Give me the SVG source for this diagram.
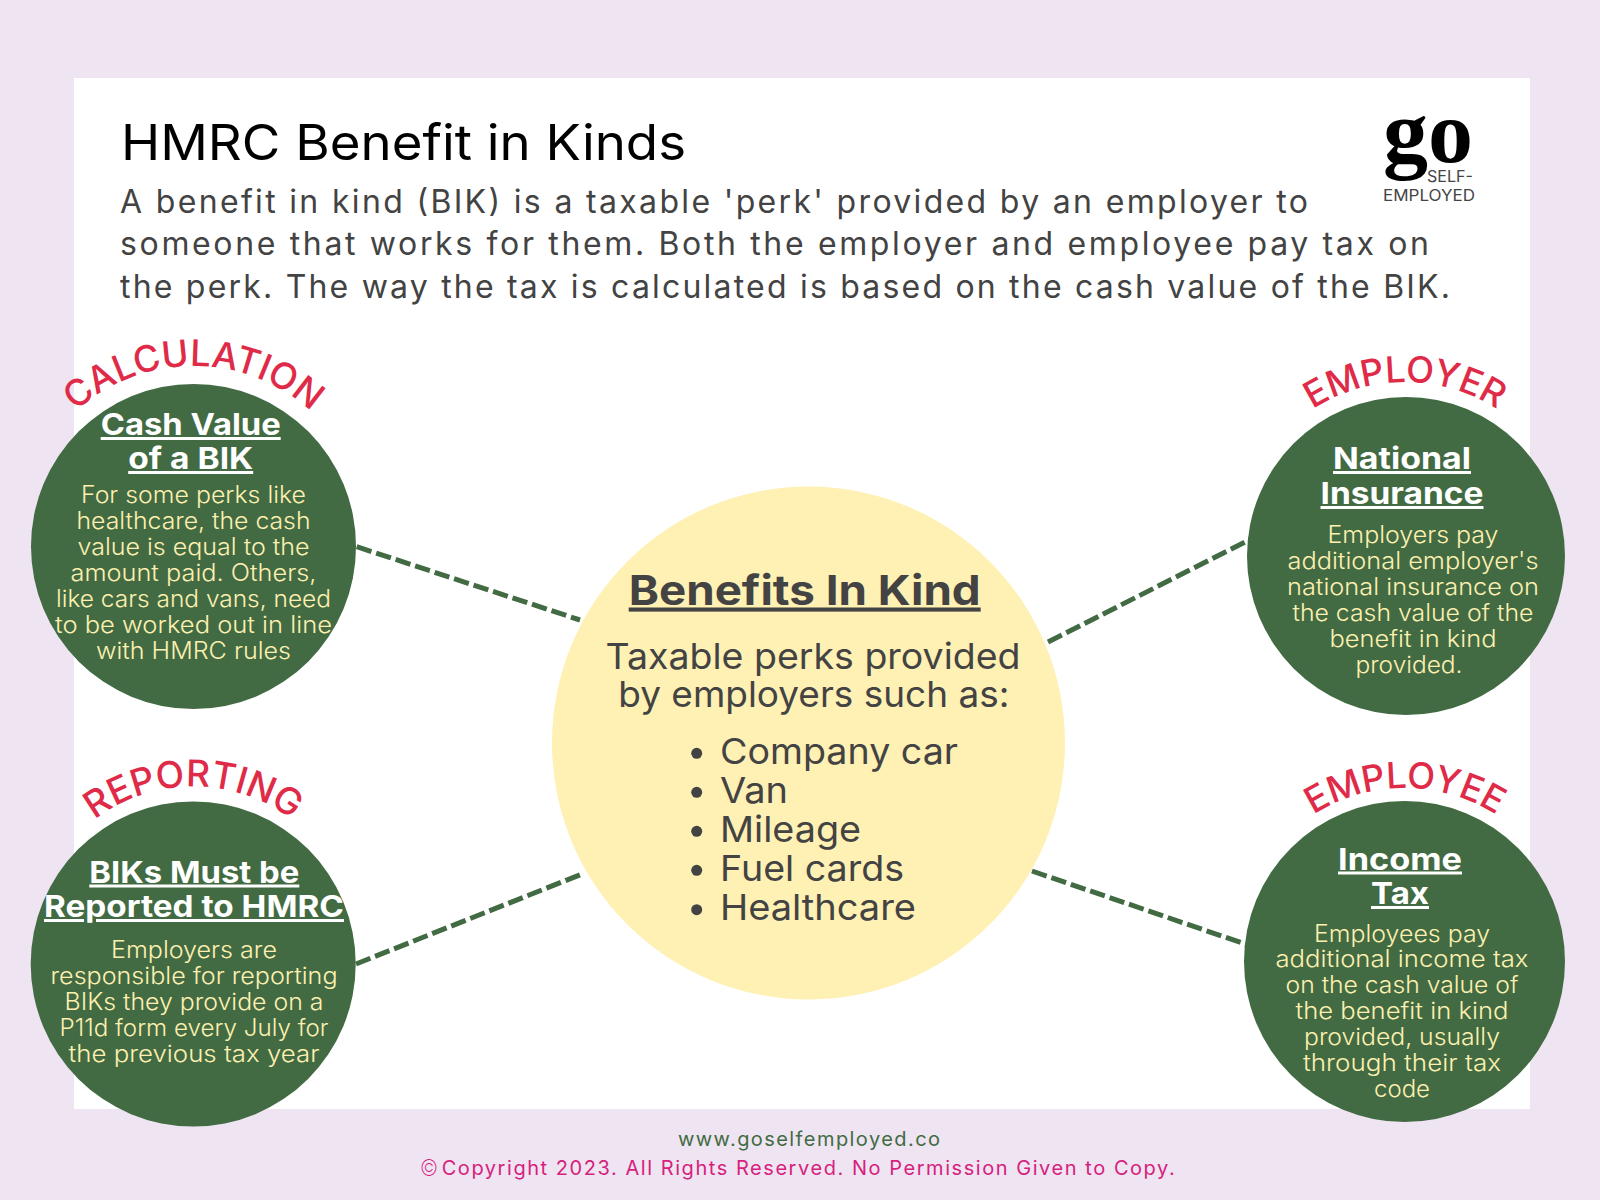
<svg xmlns="http://www.w3.org/2000/svg" width="1600" height="1200" viewBox="0 0 1600 1200">
<style>
text{font-family:"Inter","Liberation Sans",sans-serif;}
.head{font-size:30px;font-weight:700;fill:#fff;text-anchor:middle;text-decoration:underline;}
.body{font-size:23.5px;font-weight:300;fill:#fdf0b0;text-anchor:middle;}
.node{fill:#426b43;}
.arc{font-size:36.5px;font-weight:500;fill:#df2b48;text-anchor:middle;}
.dash{stroke:#426b43;stroke-width:5;stroke-dasharray:15.5 5;fill:none;}
.sub{font-size:32px;fill:#434343;}
.ct{font-size:36px;fill:#434343;}
.item{font-size:36px;fill:#434343;}
</style>
<defs>
<path id="arc1" d="M18.5,541 A175,175 0 0 1 368.5,541"/>
<path id="arc2" d="M1235,552 A170,170 0 0 1 1575,552"/>
<path id="arc3" d="M30,950 A163.5,163.5 0 0 1 357,950"/>
<path id="arc4" d="M1235,958 A170,170 0 0 1 1575,958"/>
</defs>
<rect width="1600" height="1200" fill="#efe4f1"/>
<rect x="74" y="78" width="1456" height="1031" fill="#fff"/>
<g id="header">
<text x="121" y="160" font-size="49" fill="#000" textLength="565" lengthAdjust="spacingAndGlyphs">HMRC Benefit in Kinds</text>
<text class="sub" x="120" y="212.5" textLength="1188">A benefit in kind (BIK) is a taxable 'perk' provided by an employer to</text>
<text class="sub" x="120" y="255" textLength="1309">someone that works for them. Both the employer and employee pay tax on</text>
<text class="sub" x="120" y="297.5" textLength="1330">the perk. The way the tax is calculated is based on the cash value of the BIK.</text>
</g>
<g id="logo">
<text x="1383" y="161.7" font-size="88" font-weight="700" fill="#000" style="font-family:'Liberation Serif',serif" textLength="90" lengthAdjust="spacingAndGlyphs">go</text>
<text x="1427" y="181.7" font-size="15.5" fill="#444" textLength="46" lengthAdjust="spacingAndGlyphs">SELF-</text>
<text x="1383" y="201" font-size="15.5" fill="#444" textLength="92" lengthAdjust="spacingAndGlyphs">EMPLOYED</text>
</g>
<g id="connectors">
<line class="dash" x1="356.7" y1="546.7" x2="580" y2="620"/>
<line class="dash" x1="1048" y1="642" x2="1250" y2="539.5"/>
<line class="dash" x1="356" y1="964" x2="582" y2="874"/>
<line class="dash" x1="1032" y1="871" x2="1248" y2="945"/>
</g>
<g id="node-center">
<circle cx="808.5" cy="743" r="256.5" fill="#fff0b3"/>
<text x="804.7" y="604.5" font-size="41" font-weight="700" fill="#434343" text-anchor="middle" text-decoration="underline" textLength="352" lengthAdjust="spacingAndGlyphs">Benefits In Kind</text>
<text class="ct" x="813" y="668.5" text-anchor="middle" textLength="415" lengthAdjust="spacingAndGlyphs">Taxable perks provided</text>
<text class="ct" x="813.8" y="707" text-anchor="middle" textLength="391" lengthAdjust="spacingAndGlyphs">by employers such as:</text>
<circle cx="696.7" cy="753.3" r="5.5" fill="#434343"/>
<circle cx="696.7" cy="792.3" r="5.5" fill="#434343"/>
<circle cx="696.7" cy="831.3" r="5.5" fill="#434343"/>
<circle cx="696.7" cy="870.3" r="5.5" fill="#434343"/>
<circle cx="696.7" cy="909.7" r="5.5" fill="#434343"/>
<text class="item" x="720" y="764" textLength="238" lengthAdjust="spacingAndGlyphs">Company car</text>
<text class="item" x="720" y="803" textLength="68" lengthAdjust="spacingAndGlyphs">Van</text>
<text class="item" x="720" y="842" textLength="141" lengthAdjust="spacingAndGlyphs">Mileage</text>
<text class="item" x="720" y="881" textLength="184" lengthAdjust="spacingAndGlyphs">Fuel cards</text>
<text class="item" x="720" y="920" textLength="196" lengthAdjust="spacingAndGlyphs">Healthcare</text>
</g>
<g id="node-calculation">
<circle class="node" cx="193.5" cy="546.5" r="162.5"/>
<text class="arc"><textPath href="#arc1" startOffset="50%">CALCULATION</textPath></text>
<text class="head" x="190.7" y="435" textLength="180" lengthAdjust="spacingAndGlyphs">Cash Value</text>
<text class="head" x="190.7" y="469" textLength="125" lengthAdjust="spacingAndGlyphs">of a BIK</text>
<text class="body" x="193.5" y="503" textLength="225" lengthAdjust="spacingAndGlyphs">For some perks like</text>
<text class="body" x="193.5" y="529" textLength="234" lengthAdjust="spacingAndGlyphs">healthcare, the cash</text>
<text class="body" x="193.5" y="555" textLength="232" lengthAdjust="spacingAndGlyphs">value is equal to the</text>
<text class="body" x="193.5" y="581" textLength="246" lengthAdjust="spacingAndGlyphs">amount paid. Others,</text>
<text class="body" x="193.5" y="607" textLength="275" lengthAdjust="spacingAndGlyphs">like cars and vans, need</text>
<text class="body" x="193.5" y="633" textLength="277" lengthAdjust="spacingAndGlyphs">to be worked out in line</text>
<text class="body" x="193.5" y="659" textLength="195" lengthAdjust="spacingAndGlyphs">with HMRC rules</text>
</g>
<g id="node-employer">
<circle class="node" cx="1406" cy="556" r="159"/>
<text class="arc" style="font-size:36.3px"><textPath href="#arc2" startOffset="50%">EMPLOYER</textPath></text>
<text class="head" x="1402" y="469" textLength="138" lengthAdjust="spacingAndGlyphs">National</text>
<text class="head" x="1402" y="504" textLength="163" lengthAdjust="spacingAndGlyphs">Insurance</text>
<text class="body" x="1413" y="543" textLength="171" lengthAdjust="spacingAndGlyphs">Employers pay</text>
<text class="body" x="1413" y="569" textLength="251" lengthAdjust="spacingAndGlyphs">additional employer's</text>
<text class="body" x="1413" y="595" textLength="252" lengthAdjust="spacingAndGlyphs">national insurance on</text>
<text class="body" x="1413" y="621" textLength="241" lengthAdjust="spacingAndGlyphs">the cash value of the</text>
<text class="body" x="1413" y="647" textLength="167" lengthAdjust="spacingAndGlyphs">benefit in kind</text>
<text class="body" x="1409" y="673" textLength="107" lengthAdjust="spacingAndGlyphs">provided.</text>
</g>
<g id="node-reporting">
<circle class="node" cx="193.2" cy="964" r="162.5"/>
<text class="arc" style="font-size:37px"><textPath href="#arc3" startOffset="50%">REPORTING</textPath></text>
<text class="head" x="194.3" y="882.5" textLength="210" lengthAdjust="spacingAndGlyphs">BIKs Must be</text>
<text class="head" x="194" y="917" textLength="300" lengthAdjust="spacingAndGlyphs">Reported to HMRC</text>
<text class="body" x="194" y="958" textLength="166" lengthAdjust="spacingAndGlyphs">Employers are</text>
<text class="body" x="194" y="984" textLength="287" lengthAdjust="spacingAndGlyphs">responsible for reporting</text>
<text class="body" x="194" y="1010" textLength="259" lengthAdjust="spacingAndGlyphs">BIKs they provide on a</text>
<text class="body" x="194" y="1036" textLength="269" lengthAdjust="spacingAndGlyphs">P11d form every July for</text>
<text class="body" x="194" y="1062" textLength="251" lengthAdjust="spacingAndGlyphs">the previous tax year</text>
</g>
<g id="node-employee">
<circle class="node" cx="1404.5" cy="961.5" r="160.5"/>
<text class="arc" style="font-size:36.3px"><textPath href="#arc4" startOffset="50%">EMPLOYEE</textPath></text>
<text class="head" x="1400" y="869.5" textLength="124" lengthAdjust="spacingAndGlyphs">Income</text>
<text class="head" x="1400" y="904" textLength="58" lengthAdjust="spacingAndGlyphs">Tax</text>
<text class="body" x="1402" y="941.5" textLength="176" lengthAdjust="spacingAndGlyphs">Employees pay</text>
<text class="body" x="1402" y="967" textLength="253" lengthAdjust="spacingAndGlyphs">additional income tax</text>
<text class="body" x="1402" y="993" textLength="233" lengthAdjust="spacingAndGlyphs">on the cash value of</text>
<text class="body" x="1402" y="1019" textLength="213" lengthAdjust="spacingAndGlyphs">the benefit in kind</text>
<text class="body" x="1402" y="1045" textLength="196" lengthAdjust="spacingAndGlyphs">provided, usually</text>
<text class="body" x="1402" y="1071" textLength="198" lengthAdjust="spacingAndGlyphs">through their tax</text>
<text class="body" x="1402" y="1097" textLength="56" lengthAdjust="spacingAndGlyphs">code</text>
</g>
<g id="footer">
<text x="678" y="1146" font-size="20" fill="#426b43" textLength="262">www.goselfemployed.co</text>
<text x="420" y="1175.5" font-size="23" font-weight="200" fill="#d6217f" textLength="18" lengthAdjust="spacingAndGlyphs">©</text>
<text x="441.7" y="1175" font-size="20" fill="#d6217f" textLength="733">Copyright 2023. All Rights Reserved. No Permission Given to Copy.</text>
</g>
</svg>
